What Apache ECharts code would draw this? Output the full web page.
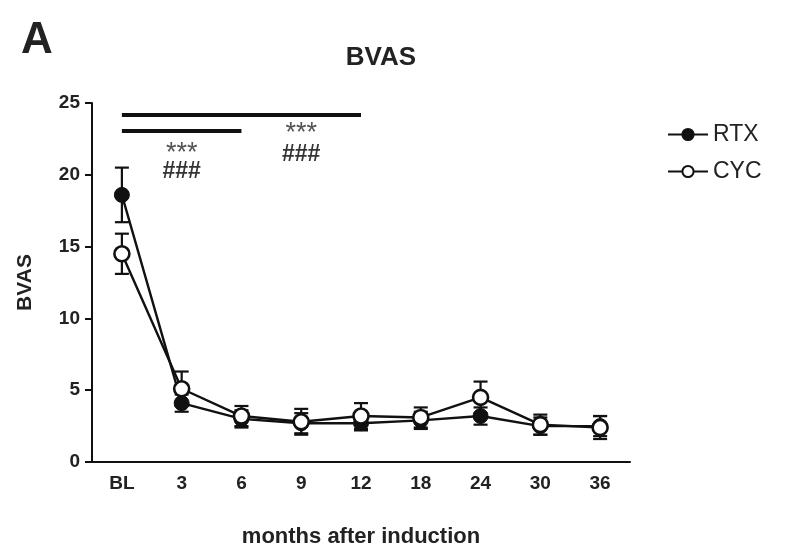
<!DOCTYPE html>
<html>
<head>
<meta charset="utf-8">
<script src="https://cdn.jsdelivr.net/npm/echarts@6/dist/echarts.min.js"></script>
<style>
  html, body { margin: 0; padding: 0; background: #fff; }
  #main { width: 789px; height: 550px; }
</style>
</head>
<body>
<div id="main"></div>
<script>
// months after induction
var months = ['BL', '3', '6', '9', '12', '18', '24', '30', '36'];
var rtxMean = [18.6, 4.1, 3.0, 2.7, 2.7, 2.9, 3.2, 2.5, 2.5];
var rtxSem  = [1.9, 0.6, 0.6, 0.7, 0.5, 0.6, 0.6, 0.6, 0.7];
var cycMean = [14.5, 5.1, 3.2, 2.8, 3.2, 3.1, 4.5, 2.6, 2.4];
var cycSem  = [1.4, 1.2, 0.7, 0.9, 0.9, 0.7, 1.1, 0.7, 0.8];

// significance bars: [from, to, level]
var sigBars = [['BL', '12', 24.2], ['BL', '6', 23.1]];
// significance labels: [month, level, text]
var sigStars = [['3', 21.9, '***'], ['9', 23.3, '***']];
var sigHash = [['3', 20.2, '###'], ['9', 21.4, '###']];

var ink = '#111';
var txt = '#222';
var font = 'Liberation Sans';

function errData(mean, sem) {
  var arr = [];
  for (var i = 0; i < mean.length; ++i) {
    arr.push([i, mean[i] - sem[i], mean[i] + sem[i]]);
  }
  return arr;
}

function renderErr(params, api) {
  var x = api.value(0);
  var lo = api.coord([x, api.value(1)]);
  var hi = api.coord([x, api.value(2)]);
  var w = 7;
  var st = { stroke: ink, lineWidth: 2.2 };
  return {
    type: 'group',
    children: [
      { type: 'line', shape: { x1: lo[0], y1: lo[1], x2: hi[0], y2: hi[1] }, style: st },
      { type: 'line', shape: { x1: hi[0] - w, y1: hi[1], x2: hi[0] + w, y2: hi[1] }, style: st },
      { type: 'line', shape: { x1: lo[0] - w, y1: lo[1], x2: lo[0] + w, y2: lo[1] }, style: st }
    ]
  };
}

var markLines = [];
for (var i = 0; i < sigBars.length; ++i) {
  markLines.push([{ coord: [sigBars[i][0], sigBars[i][2]] }, { coord: [sigBars[i][1], sigBars[i][2]] }]);
}
var markPts = [];
for (var i = 0; i < sigStars.length; ++i) {
  markPts.push({
    coord: [sigStars[i][0], sigStars[i][1]], name: sigStars[i][2],
    label: { color: '#555', fontSize: 27, fontWeight: 'normal', offset: [0, 6] }
  });
}
for (var i = 0; i < sigHash.length; ++i) {
  markPts.push({
    coord: [sigHash[i][0], sigHash[i][1]], name: sigHash[i][2],
    label: { color: '#333', fontSize: 23, fontWeight: 'bold' }
  });
}

var myChart = echarts.init(document.getElementById('main'));
var option = {
  backgroundColor: '#fff',
  animation: false,
  textStyle: { fontFamily: font },
  title: [
    { text: 'A', left: 16, top: 14, textStyle: { fontSize: 44, fontWeight: 'bold', color: txt, fontFamily: font } },
    { text: 'BVAS', left: 376, top: 40, textAlign: 'center', textStyle: { fontSize: 26, fontWeight: 'bold', color: txt, fontFamily: font } }
  ],
  legend: {
    orient: 'vertical',
    left: 662,
    top: 118,
    itemGap: 14,
    itemWidth: 40,
    itemHeight: 14,
    textStyle: { fontSize: 23, color: txt, fontFamily: font, padding: [0, 0, 0, 0] },
    data: ['RTX', 'CYC']
  },
  grid: { left: 92, right: 159, top: 103, bottom: 88, outerBoundsMode: 'none' },
  xAxis: {
    type: 'category',
    data: months,
    boundaryGap: true,
    name: 'months after induction',
    nameLocation: 'middle',
    nameGap: 64,
    nameTextStyle: { fontSize: 22, fontWeight: 'bold', color: txt, fontFamily: font },
    axisLine: { lineStyle: { color: ink, width: 2 } },
    axisTick: { alignWithLabel: true, length: 7, lineStyle: { color: ink, width: 2 } },
    axisLabel: { fontSize: 19, fontWeight: 'bold', color: txt, margin: 12, fontFamily: font },
    splitLine: { show: false }
  },
  yAxis: {
    type: 'value',
    min: 0,
    max: 25,
    interval: 5,
    name: 'BVAS',
    nameLocation: 'middle',
    nameGap: 56,
    nameTextStyle: { fontSize: 21, fontWeight: 'bold', color: txt, fontFamily: font },
    axisLine: { show: true, lineStyle: { color: ink, width: 2 } },
    axisTick: { show: true, length: 7, lineStyle: { color: ink, width: 2 } },
    axisLabel: { fontSize: 19, fontWeight: 'bold', color: txt, margin: 12, fontFamily: font },
    splitLine: { show: false }
  },
  series: [
    {
      name: 'RTX-err', type: 'custom', renderItem: renderErr,
      data: errData(rtxMean, rtxSem), z: 1, silent: true
    },
    {
      name: 'CYC-err', type: 'custom', renderItem: renderErr,
      data: errData(cycMean, cycSem), z: 1, silent: true
    },
    {
      name: 'RTX', type: 'line', data: rtxMean, z: 3,
      symbol: 'circle', symbolSize: 15,
      itemStyle: { color: ink, borderColor: ink, borderWidth: 1 },
      lineStyle: { color: ink, width: 2.4 },
      markLine: {
        symbol: 'none', silent: true,
        lineStyle: { color: ink, width: 4, type: 'solid' },
        label: { show: false },
        data: markLines
      },
      markPoint: {
        symbol: 'circle', symbolSize: 0, silent: true,
        label: { show: true, formatter: '{b}', position: 'inside', fontFamily: font },
        data: markPts
      }
    },
    {
      name: 'CYC', type: 'line', data: cycMean, z: 4,
      symbol: 'circle', symbolSize: 15,
      itemStyle: { color: '#fff', borderColor: ink, borderWidth: 2.6 },
      lineStyle: { color: ink, width: 2.4 }
    }
  ]
};
myChart.setOption(option);
</script>
</body>
</html>
